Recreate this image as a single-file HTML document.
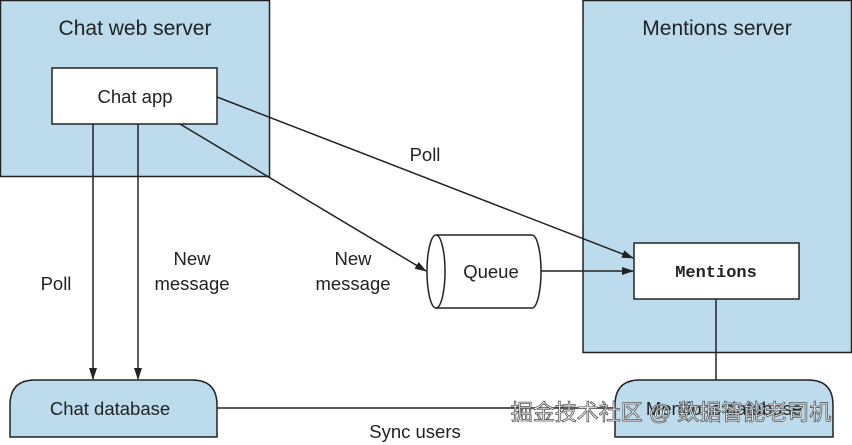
<!DOCTYPE html>
<html><head><style>body{margin:0;background:#fff}svg{display:block}text{font-family:"Liberation Sans",sans-serif;font-size:18.5px;fill:#222}</style></head>
<body>
<svg width="852" height="445" viewBox="0 0 852 445">
<defs><marker id="a" markerWidth="12" markerHeight="8" refX="11" refY="4" orient="auto" markerUnits="userSpaceOnUse"><path d="M0,0 L12,4 L0,8 Z" fill="#222"/></marker></defs>
<g stroke="#222" stroke-width="1.5">
<rect x="0.5" y="0.5" width="269" height="176" fill="#bcdcee"/>
<rect x="583" y="0.5" width="268.5" height="352" fill="#bcdcee"/>
<rect x="52" y="68" width="165" height="56" fill="#fff"/>
<rect x="634" y="243" width="165" height="56" fill="#fff"/>
<path d="M10,437 V405 Q10,380 35,380 H192 Q217,380 217,405 V437 Z" fill="#bcdcee"/>
<path d="M615,437 V405 Q615,380 640,380 H808 Q833,380 833,405 V437 Z" fill="#bcdcee"/>
<path d="M436,235 H532 A9,36.5 0 0 1 532,308 H436" fill="#fff"/>
<ellipse cx="436" cy="271.5" rx="9" ry="36.5" fill="#fff"/>
<g fill="none">
<line x1="93" y1="124" x2="93" y2="379" marker-end="url(#a)"/>
<line x1="138" y1="124" x2="138" y2="379" marker-end="url(#a)"/>
<line x1="180" y1="124" x2="426" y2="271" marker-end="url(#a)"/>
<line x1="217" y1="97" x2="633" y2="258" marker-end="url(#a)"/>
<line x1="541" y1="271" x2="633" y2="271" marker-end="url(#a)"/>
<line x1="716" y1="299" x2="716" y2="380"/>
<line x1="217" y1="408" x2="615" y2="408"/>
</g></g>
<text x="135" y="35" text-anchor="middle" style="font-size:21px">Chat web server</text>
<text x="717" y="35" text-anchor="middle" style="font-size:21px">Mentions server</text>
<text x="135" y="103" text-anchor="middle">Chat app</text>
<text x="716" y="277" text-anchor="middle" style="font-family:'Liberation Mono',monospace;font-weight:bold;font-size:17px">Mentions</text>
<text x="491" y="278" text-anchor="middle">Queue</text>
<text x="110" y="415" text-anchor="middle">Chat database</text>
<text x="724" y="415" text-anchor="middle">Mentions database</text>
<text x="56" y="290" text-anchor="middle">Poll</text>
<text x="192" y="265" text-anchor="middle">New</text>
<text x="192" y="290" text-anchor="middle">message</text>
<text x="353" y="265" text-anchor="middle">New</text>
<text x="353" y="290" text-anchor="middle">message</text>
<text x="425" y="161" text-anchor="middle">Poll</text>
<text x="415" y="438" text-anchor="middle">Sync users</text>
<text x="671" y="420" text-anchor="middle" style="font-family:'Liberation Sans','Noto Sans CJK SC',sans-serif;font-size:22px;fill:#fff;stroke:#555;stroke-width:0.8">掘金技术社区 @ 数据智能老司机</text>
</svg>
</body></html>
